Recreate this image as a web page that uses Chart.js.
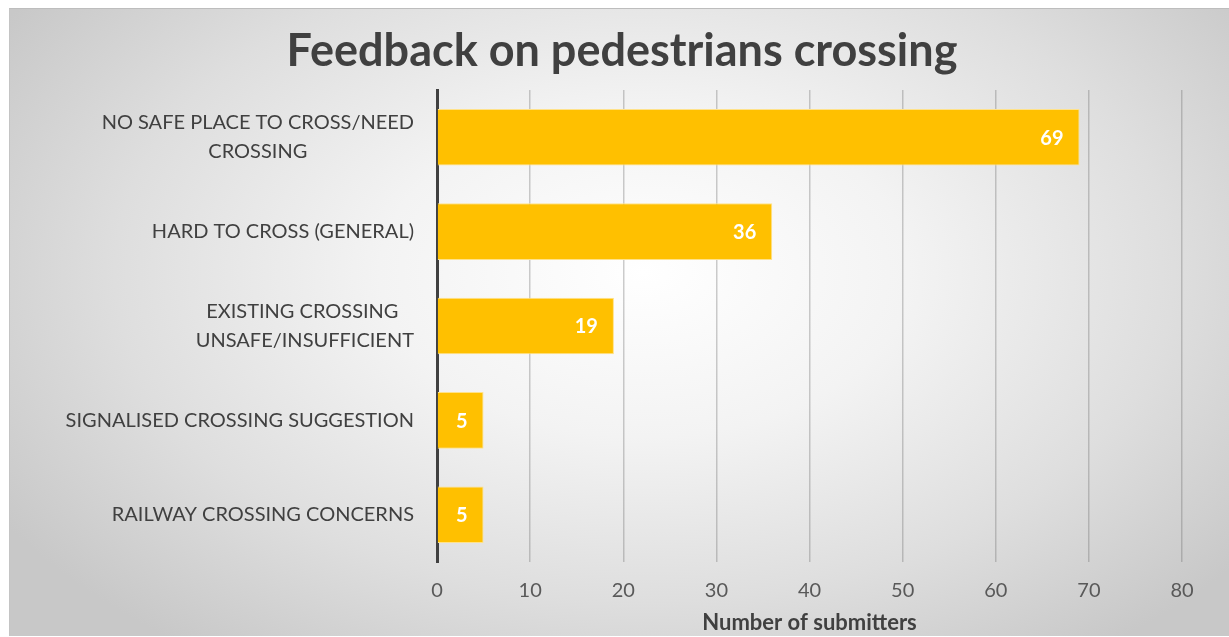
<!DOCTYPE html>
<html>
<head>
<meta charset="utf-8">
<script src="https://cdn.jsdelivr.net/npm/chart.js@4"></script>
<style>
    html, body { margin: 0; padding: 0; background: #ffffff; overflow: hidden; }
    #chart-bg {
        position: absolute; left: 9px; top: 8px; width: 1220px; height: 627px;
        border-top: 1px solid #bdbdbd; border-left: 1px solid #c4c4c4;
        background: radial-gradient(ellipse 62% 75% at 52% 42%, #ffffff 0%, #f3f3f3 35%, #dedede 70%, #c8c8c8 100%);
    }
    #chart-feedback { position: absolute; left: 0; top: 0; }
</style>
</head>
<body>
<div id="chart-bg"></div>
<canvas id="chart-feedback" width="1229" height="637"></canvas>
<script>
// Dados
const categorias = [
    ['NO SAFE PLACE TO CROSS/NEED', 'CROSSING'],
    ['HARD TO CROSS (GENERAL)'],
    ['EXISTING CROSSING ', 'UNSAFE/INSUFFICIENT'],
    ['SIGNALISED CROSSING SUGGESTION'],
    ['RAILWAY CROSSING CONCERNS']
];
const submissoes = [69, 36, 19, 5, 5];
const ticksX = [0, 10, 20, 30, 40, 50, 60, 70, 80];

const fonteBase = 'Lato, "Open Sans", sans-serif';
const corTexto = '#404040';

/**
 * Desenha os rótulos do eixo Y (centralizados linha a linha, bloco alinhado à direita)
 * e os valores dentro das barras.
 */
const rotulosPlugin = {
    id: 'rotulos',
    afterDatasetsDraw(chart) {
        const { ctx, scales } = chart;
        const yScale = scales.y;
        const xScale = scales.x;
        ctx.save();

        // Rótulos de categoria
        ctx.font = '20px ' + fonteBase;
        ctx.fillStyle = corTexto;
        ctx.textAlign = 'center';
        ctx.textBaseline = 'middle';
        const direita = xScale.left - 23;
        const alturaLinha = 29;
        categorias.forEach((linhas, i) => {
            const yc = yScale.getPixelForValue(i);
            const largura = Math.max(...linhas.map(l => ctx.measureText(l.trim()).width));
            const xc = direita - largura / 2;
            linhas.forEach((linha, j) => {
                const y = yc + (j - (linhas.length - 1) / 2) * alturaLinha;
                ctx.fillText(linha, xc, y);
            });
        });

        // Valores dentro das barras
        ctx.font = 'bold 20px ' + fonteBase;
        ctx.fillStyle = '#ffffff';
        ctx.textAlign = 'right';
        const meta = chart.getDatasetMeta(0);
        meta.data.forEach((bar, i) => {
            ctx.fillText(String(submissoes[i]), bar.x - 16, bar.y + 1);
        });
        ctx.restore();
    }
};

function renderGrafico() {
    const ctx = document.getElementById('chart-feedback');
    if (Chart.getChart(ctx)) Chart.getChart(ctx).destroy();

    new Chart(ctx, {
        type: 'bar',
        data: {
            labels: categorias,
            datasets: [{
                data: submissoes,
                backgroundColor: '#FFC000',
                borderColor: '#FFE28A',
                borderWidth: 1,
                categoryPercentage: 1,
                barPercentage: 0.6
            }]
        },
        options: {
            indexAxis: 'y',
            responsive: false,
            animation: false,
            // padding esquerdo equilibra o título em torno de x≈622
            layout: { padding: { top: 14, right: 47, bottom: 0, left: 62 } },
            plugins: {
                legend: { display: false },
                tooltip: { enabled: false },
                title: {
                    display: true,
                    text: 'Feedback on pedestrians crossing',
                    color: corTexto,
                    font: { family: fonteBase, size: 45, weight: 'bold' },
                    padding: { top: 10, bottom: 12 }
                }
            },
            scales: {
                x: {
                    min: 0,
                    max: 80,
                    afterBuildTicks: scale => { scale.ticks = ticksX.map(v => ({ value: v })); },
                    afterFit: scale => { scale.height = 75; },
                    grid: { color: 'rgba(110, 110, 110, 0.35)', lineWidth: 1.5, drawTicks: false },
                    border: { display: false },
                    ticks: {
                        color: '#595959',
                        padding: 17,
                        font: { family: fonteBase, size: 20 }
                    },
                    title: {
                        display: true,
                        text: 'Number of submitters',
                        color: corTexto,
                        font: { family: fonteBase, size: 22, weight: 'bold' },
                        padding: { top: 2, bottom: 1 }
                    }
                },
                y: {
                    grid: { display: false },
                    border: { display: true, color: '#404040', width: 3 },
                    ticks: { display: false },
                    afterFit: scale => { scale.width = 375; }
                }
            }
        },
        plugins: [rotulosPlugin]
    });
}

renderGrafico();
</script>
</body>
</html>
